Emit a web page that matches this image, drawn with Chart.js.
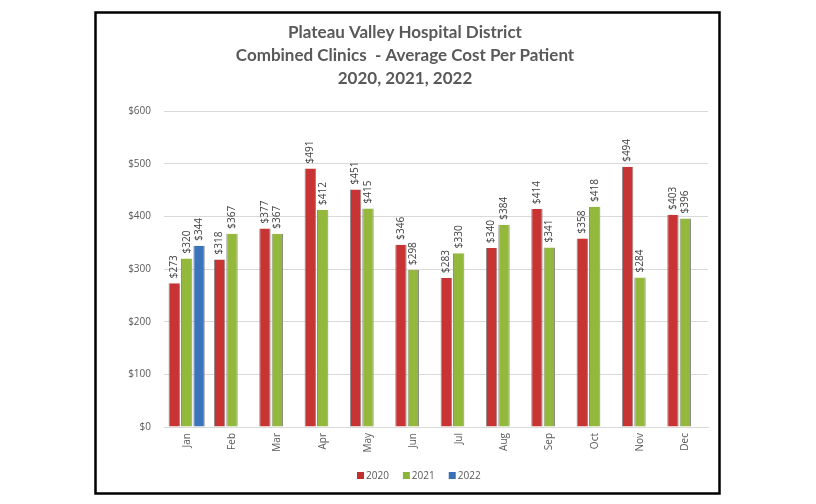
<!DOCTYPE html>
<html><head><meta charset="utf-8">
<script src="https://cdn.jsdelivr.net/npm/chart.js@4"></script>
<style>html,body{margin:0;padding:0;background:#fff}#wrap{width:816px;height:504px;position:relative}</style>
</head><body><div id="wrap"><canvas id="c" width="816" height="504"></canvas></div>
<script>
const categories = ['Jan','Feb','Mar','Apr','May','Jun','Jul','Aug','Sep','Oct','Nov','Dec'];
const values2020 = [273,318,377,491,451,346,283,340,414,358,494,403];
const values2021 = [320,367,367,412,415,298,330,384,341,418,284,396];
const values2022 = [344,null,null,null,null,null,null,null,null,null,null,null];
const titleLines = ['Plateau Valley Hospital District','Combined Clinics  - Average Cost Per Patient','2020, 2021, 2022'];

const palette = [
  {light:'#d94a4a', mid:'#c83434', dark:'#a22828', top:'#f06a6a', legend:'#c0302e'},
  {light:'#a8c852', mid:'#93b83c', dark:'#74942c', top:'#d2ea6a', legend:'#8cb43a'},
  {light:'#4a88d0', mid:'#3a74bd', dark:'#2a5a9a', top:'#7ab4f0', legend:'#3a70b8'}
];
function grad(i){
  return function(ctx){
    const chart = ctx.chart; const el = ctx.element;
    if(!el || el.x === undefined || !chart.chartArea) return palette[i].mid;
    const w = el.width || 12;
    const g = chart.ctx.createLinearGradient(el.x - w/2, 0, el.x + w/2, 0);
    g.addColorStop(0, palette[i].dark);
    g.addColorStop(0.3, palette[i].light);
    g.addColorStop(0.7, palette[i].mid);
    g.addColorStop(1, palette[i].dark);
    return g;
  };
}

const framePlugin = {
  id:'frame',
  beforeDraw(chart){
    const c = chart.ctx;
    c.save();
    c.fillStyle='#fff'; c.fillRect(0,0,chart.width,chart.height);
    c.strokeStyle='#000'; c.lineWidth=2.5;
    c.strokeRect(95.5,12.5,624,481);
    c.restore();
  },
  afterDraw(chart){
    const c = chart.ctx;
    c.save();
    // title
    c.fillStyle='#595959';
    c.font='bold 17px Lato, "Open Sans", sans-serif';
    c.textAlign='center'; c.textBaseline='middle';
    titleLines.forEach((t,k)=>c.fillText(t,405,33+k*23));
    // data labels
    c.font='10px "Open Sans", sans-serif';
    c.fillStyle='#404040';
    chart.data.datasets.forEach((ds,di)=>{
      const meta = chart.getDatasetMeta(di);
      meta.data.forEach((bar,j)=>{
        const v = ds.data[j];
        if(v===null||v===undefined) return;
        c.save();
        c.translate(bar.x, bar.y-5);
        c.rotate(-Math.PI/2);
        c.textAlign='left'; c.textBaseline='middle';
        c.fillText('$'+v,0,0);
        c.restore();
      });
    });
    // legend
    c.font='10px "Open Sans", sans-serif';
    c.textBaseline='middle'; c.textAlign='left';
    let x = 357; const y = 476;
    chart.data.datasets.forEach((ds,di)=>{
      c.fillStyle=palette[di].legend;
      c.fillRect(x,y-4,7,7);
      c.fillStyle='#595959';
      c.fillText(ds.label,x+9,y);
      x += 9 + c.measureText(ds.label).width + 14;
    });
    c.restore();
  }
};

new Chart(document.getElementById('c'),{
  type:'bar',
  data:{
    labels:categories,
    datasets:[
      {label:'2020',data:values2020,backgroundColor:grad(0),borderColor:'#8a8a8a',borderWidth:{left:1,right:1,top:0,bottom:0}},
      {label:'2021',data:values2021,backgroundColor:grad(1),borderColor:'#8a8a8a',borderWidth:{left:1,right:1,top:0,bottom:0}},
      {label:'2022',data:values2022,backgroundColor:grad(2),borderColor:'#8a8a8a',borderWidth:{left:1,right:1,top:0,bottom:0}}
    ]
  },
  options:{
    responsive:false,animation:false,
    devicePixelRatio:1,
    layout:{padding:{left:124,right:108,top:111,bottom:41}},
    categoryPercentage:0.82,
    barPercentage:0.92,
    plugins:{legend:{display:false},title:{display:false},tooltip:{enabled:false}},
    scales:{
      x:{
        grid:{display:false,drawTicks:false},
        border:{color:'#d9d9d9'},
        ticks:{color:'#595959',font:{size:10,family:'"Open Sans", sans-serif'},minRotation:90,maxRotation:90,padding:6},
        afterFit(s){s.height=36;}
      },
      y:{
        min:0,max:600,
        grid:{color:'#d9d9d9',drawTicks:false},
        border:{display:false},
        ticks:{stepSize:100,color:'#595959',font:{size:10,family:'"Open Sans", sans-serif'},padding:13,callback:v=>'$'+v},
        afterFit(s){s.width=40;}
      }
    }
  },
  plugins:[framePlugin]
});
</script></body></html>
